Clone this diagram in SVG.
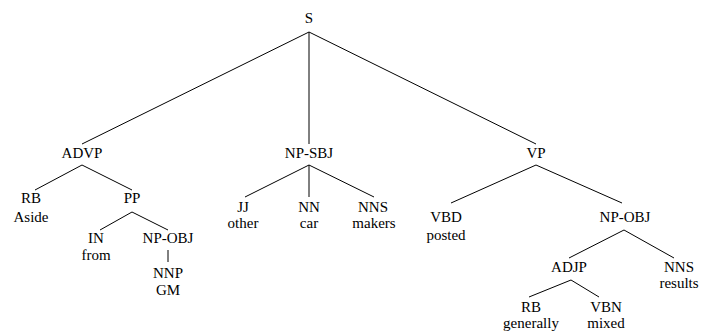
<svg xmlns="http://www.w3.org/2000/svg" width="714" height="333" viewBox="0 0 714 333">
<style>
text{font-family:"Liberation Serif","Times New Roman",serif;font-size:15px;fill:#000;text-anchor:middle}
.c line{stroke:#000;stroke-width:1}
</style>
<rect width="714" height="333" fill="#fff"/>
<g class="c" id="connectors">
<line x1="309" y1="32" x2="82" y2="144"/>
<line x1="309" y1="32" x2="309" y2="144"/>
<line x1="309" y1="32" x2="536" y2="144"/>
<line x1="82" y1="165" x2="35" y2="190"/>
<line x1="82" y1="165" x2="132" y2="190"/>
<line x1="132" y1="212" x2="100" y2="230"/>
<line x1="132" y1="212" x2="168" y2="230"/>
<line x1="168" y1="250" x2="168" y2="262"/>
<line x1="309" y1="165" x2="245" y2="197"/>
<line x1="309" y1="165" x2="309" y2="197"/>
<line x1="309" y1="165" x2="374" y2="197"/>
<line x1="536" y1="165" x2="451" y2="203"/>
<line x1="536" y1="165" x2="622" y2="203"/>
<line x1="624" y1="230" x2="569" y2="258"/>
<line x1="624" y1="230" x2="674" y2="258"/>
<line x1="571" y1="280" x2="529" y2="297"/>
<line x1="571" y1="280" x2="599" y2="297"/>
</g>
<g id="S"><text x="309" y="23">S</text></g>
<g id="ADVP"><text x="82" y="158">ADVP</text></g>
<g id="NP-SBJ"><text x="309" y="158">NP-SBJ</text></g>
<g id="VP"><text x="536" y="158">VP</text></g>
<g id="RB1"><text x="31" y="203">RB</text><text x="31" y="222">Aside</text></g>
<g id="PP"><text x="132" y="203">PP</text></g>
<g id="IN"><text x="96" y="243">IN</text><text x="96" y="260">from</text></g>
<g id="NP-OBJ1"><text x="168" y="243">NP-OBJ</text></g>
<g id="NNP"><text x="168" y="278">NNP</text><text x="168" y="295">GM</text></g>
<g id="JJ"><text x="243" y="212">JJ</text><text x="243" y="228">other</text></g>
<g id="NN"><text x="309" y="212">NN</text><text x="309" y="228">car</text></g>
<g id="NNS1"><text x="373" y="212">NNS</text><text x="374" y="228">makers</text></g>
<g id="VBD"><text x="446" y="222">VBD</text><text x="446" y="240">posted</text></g>
<g id="NP-OBJ2"><text x="625" y="222">NP-OBJ</text></g>
<g id="ADJP"><text x="569" y="272">ADJP</text></g>
<g id="NNS2"><text x="679" y="272">NNS</text><text x="679" y="288">results</text></g>
<g id="RB2"><text x="531" y="312">RB</text><text x="531" y="328">generally</text></g>
<g id="VBN"><text x="606" y="312">VBN</text><text x="606" y="328">mixed</text></g>
</svg>
